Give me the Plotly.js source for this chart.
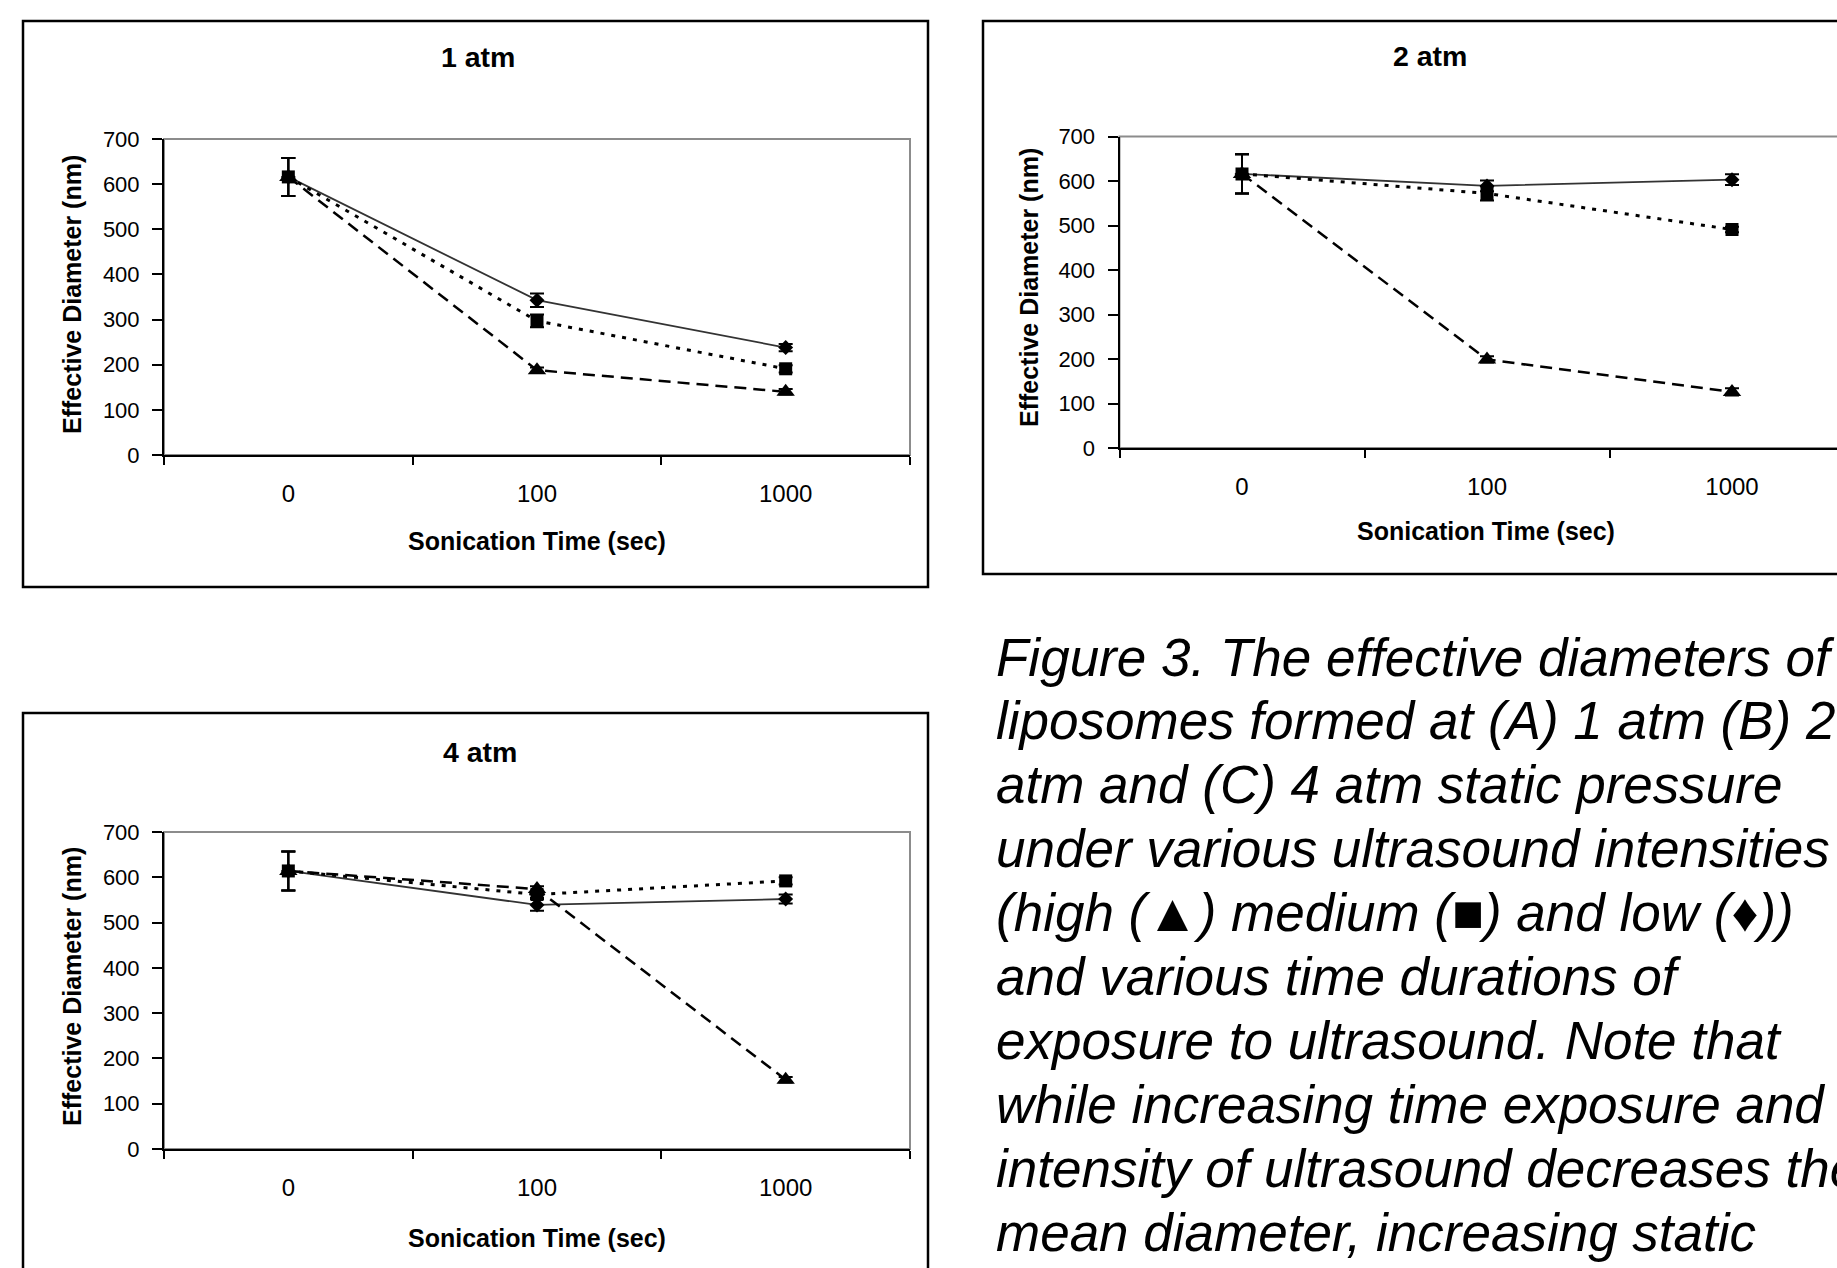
<!DOCTYPE html>
<html>
<head>
<meta charset="utf-8">
<script src="https://cdn.plot.ly/plotly-3.0.1.min.js"></script>
<style>
html, body { margin: 0; padding: 0; overflow: hidden; background: #ffffff; }
#chart { width: 1837px; height: 1268px; }
</style>
</head>
<body>
<div id="chart"></div>
<script>
// ---------------- DATA ----------------
const times = ['0', '100', '1000'];
const panelTitles = ['1 atm', '2 atm', '4 atm'];
const xAxisTitle = 'Sonication Time (sec)';
const yAxisTitle = 'Effective Diameter (nm)';

// 1 atm
const atm1High = [616, 188, 140];
const atm1HighErr = [42, 6, 6];
const atm1Medium = [616, 297, 191];
const atm1MediumErr = [42, 14, 8];
const atm1Low = [616, 343, 238];
const atm1LowErr = [42, 15, 8];

// 2 atm
const atm2High = [616, 199, 126];
const atm2HighErr = [44, 7, 8];
const atm2Medium = [616, 572, 491];
const atm2MediumErr = [44, 16, 6];
const atm2Low = [616, 589, 603];
const atm2LowErr = [44, 12, 12];

// 4 atm
const atm4High = [614, 574, 153];
const atm4HighErr = [43, 6, 6];
const atm4Medium = [614, 562, 592];
const atm4MediumErr = [43, 8, 8];
const atm4Low = [614, 539, 552];
const atm4LowErr = [43, 13, 10];

const captionLines = [
  'Figure 3. The effective diameters of',
  'liposomes formed at (A) 1 atm (B) 2',
  'atm and (C) 4 atm static pressure',
  'under various ultrasound intensities',
  '(high (\u25B2) medium (\u25A0) and low (\u2666))',
  'and various time durations of',
  'exposure to ultrasound. Note that',
  'while increasing time exposure and',
  'intensity of ultrasound decreases the',
  'mean diameter, increasing static'
];

// ---------------- LAYOUT HELPERS ----------------
const W = 1837, H = 1268;
const px = v => v / W;
const py = v => 1 - v / H;
const FONT = 'Liberation Sans, Arial, Helvetica, sans-serif';

const styles = {
  high:   { line: { color: '#000000', width: 2.5, dash: '12px,7px' }, marker: { symbol: 'triangle-up', size: 16, color: '#000000' } },
  medium: { line: { color: '#000000', width: 3, dash: '4px,7px' }, marker: { symbol: 'square', size: 13, color: '#000000' } },
  low:    { line: { color: '#333333', width: 1.8 }, marker: { symbol: 'diamond', size: 11.5, color: '#000000' } }
};

function series(name, y, err, xa, ya) {
  const s = styles[name];
  return {
    type: 'scatter', mode: 'lines+markers', name: name,
    x: times, y: y, xaxis: xa, yaxis: ya,
    line: s.line, marker: s.marker,
    error_y: { type: 'data', array: err, visible: true, color: '#000000', thickness: 2, width: 7 },
    showlegend: false, hoverinfo: 'skip'
  };
}

const traces = [
  series('low', atm1Low, atm1LowErr, 'x', 'y'),
  series('high', atm1High, atm1HighErr, 'x', 'y'),
  series('medium', atm1Medium, atm1MediumErr, 'x', 'y'),
  series('low', atm2Low, atm2LowErr, 'x2', 'y2'),
  series('high', atm2High, atm2HighErr, 'x2', 'y2'),
  series('medium', atm2Medium, atm2MediumErr, 'x2', 'y2'),
  series('low', atm4Low, atm4LowErr, 'x3', 'y3'),
  series('high', atm4High, atm4HighErr, 'x3', 'y3'),
  series('medium', atm4Medium, atm4MediumErr, 'x3', 'y3')
];

function xAxis(domain, anchor, range) {
  return {
    domain: domain, anchor: anchor, type: 'category', categoryarray: times, categoryorder: 'array',
    range: range, showline: true, linecolor: '#000000', linewidth: 2,
    ticks: 'outside', tickson: 'boundaries', ticklen: 8, tickwidth: 2, tickcolor: '#000000',
    tickfont: { family: FONT, size: 24, color: '#000000' }, ticklabelstandoff: 16,
    showgrid: false, zeroline: false, fixedrange: true
  };
}
function yAxis(domain, anchor) {
  return {
    domain: domain, anchor: anchor, range: [0, 700], tick0: 0, dtick: 100,
    showline: true, linecolor: '#000000', linewidth: 2,
    ticks: 'outside', ticklen: 10, tickwidth: 2, tickcolor: '#000000',
    tickfont: { family: FONT, size: 22, color: '#000000' }, ticklabelstandoff: 8,
    showgrid: false, zeroline: false, fixedrange: true
  };
}

// chart 2 plot continues past the right edge of the page
const c2Left = 1119.5, c2Cat = 245;
const c2RangeEnd = -0.5 + (W - c2Left) / c2Cat;

const layout = {
  width: W, height: H,
  margin: { l: 0, r: 0, t: 0, b: 0, pad: 0 },
  paper_bgcolor: '#ffffff', plot_bgcolor: 'rgba(0,0,0,0)',
  font: { family: FONT, color: '#000000' },
  showlegend: false,
  xaxis: xAxis([px(164), px(910)], 'y', [-0.5, 2.5]),
  yaxis: yAxis([py(455), py(139)], 'x'),
  xaxis2: xAxis([px(c2Left), 1], 'y2', [-0.5, c2RangeEnd]),
  yaxis2: yAxis([py(448), py(136.5)], 'x2'),
  xaxis3: xAxis([px(164), px(910)], 'y3', [-0.5, 2.5]),
  yaxis3: yAxis([py(1149), py(832)], 'x3'),
  shapes: [
    // grey plot frames
    { type: 'rect', xref: 'x domain', yref: 'y domain', x0: 0, x1: 1, y0: 0, y1: 1, line: { color: '#8c8c8c', width: 2 }, layer: 'below' },
    { type: 'rect', xref: 'x2 domain', yref: 'y2 domain', x0: 0, x1: 1.1, y0: 0, y1: 1, line: { color: '#8c8c8c', width: 2 }, layer: 'below' },
    { type: 'rect', xref: 'x3 domain', yref: 'y3 domain', x0: 0, x1: 1, y0: 0, y1: 1, line: { color: '#8c8c8c', width: 2 }, layer: 'below' },
    // outer chart boxes
    { type: 'rect', xref: 'paper', yref: 'paper', x0: px(23), x1: px(928), y0: py(587), y1: py(21), line: { color: '#000000', width: 2.5 } },
    { type: 'rect', xref: 'paper', yref: 'paper', x0: px(983), x1: 1.05, y0: py(574), y1: py(21), line: { color: '#000000', width: 2.5 } },
    { type: 'rect', xref: 'paper', yref: 'paper', x0: px(23), x1: px(928), y0: -0.05, y1: py(713), line: { color: '#000000', width: 2.5 } }
  ],
  annotations: []
};

function ann(text, x, y, size, extra) {
  return Object.assign({
    text: text, x: px(x), y: py(y), xref: 'paper', yref: 'paper', showarrow: false,
    xanchor: 'center', yanchor: 'middle', font: { family: FONT, size: size, color: '#000000' }
  }, extra || {});
}

// panel titles
layout.annotations.push(ann('<b>' + panelTitles[0] + '</b>', 478, 57, 28.5));
layout.annotations.push(ann('<b>' + panelTitles[1] + '</b>', 1430, 56, 28.5));
layout.annotations.push(ann('<b>' + panelTitles[2] + '</b>', 480, 752, 28.5));
// y axis titles
layout.annotations.push(ann('<b>' + yAxisTitle + '</b>', 72, 295, 25, { textangle: -90 }));
layout.annotations.push(ann('<b>' + yAxisTitle + '</b>', 1029, 288, 25, { textangle: -90 }));
layout.annotations.push(ann('<b>' + yAxisTitle + '</b>', 72, 987, 25, { textangle: -90 }));
// x axis titles
layout.annotations.push(ann('<b>' + xAxisTitle + '</b>', 537, 541, 25));
layout.annotations.push(ann('<b>' + xAxisTitle + '</b>', 1486, 531, 25));
layout.annotations.push(ann('<b>' + xAxisTitle + '</b>', 537, 1238, 25));

// caption (italic, single-spaced lines)
captionLines.forEach(function (line, i) {
  const centre = 657 + 63.9 * i;
  layout.annotations.push(ann('<i>' + line + '</i>', 994, centre, 53, { xanchor: 'left' }));
});

Plotly.newPlot('chart', traces, layout, { displayModeBar: false, staticPlot: true });
</script>
</body>
</html>
